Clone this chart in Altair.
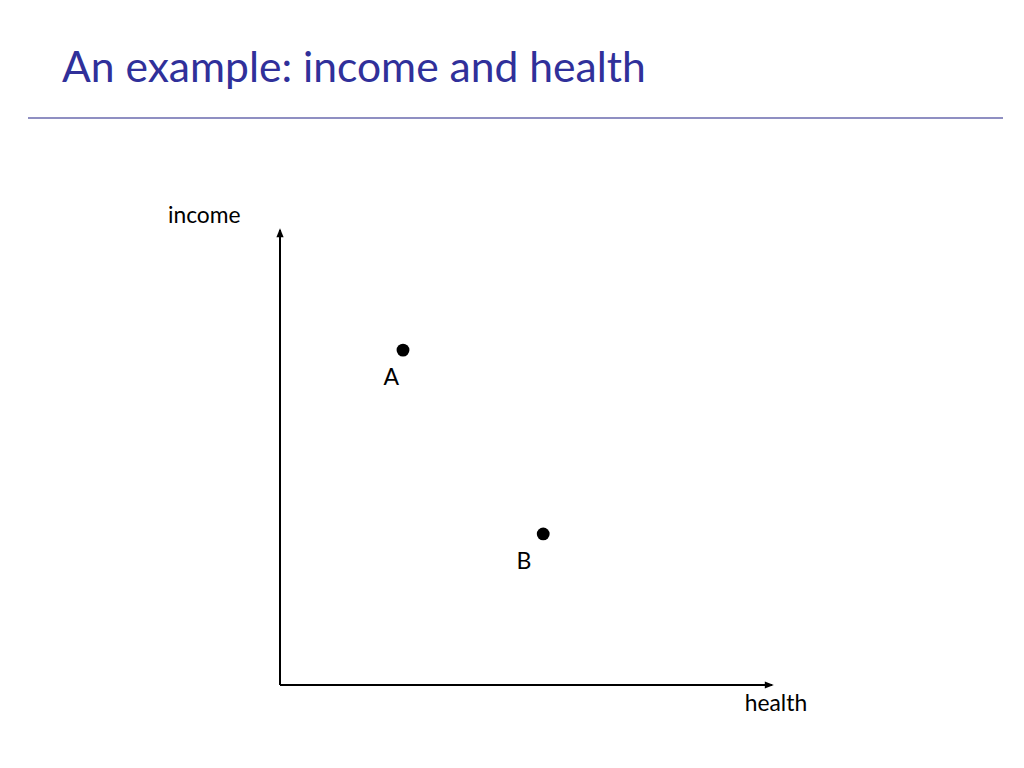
import altair as alt
import pandas as pd

# Data (in an abstract 0-10 health/income coordinate system)
point_names = ["A", "B"]
health_vals = [2.5, 5.35]
income_vals = [7.36, 3.32]
label_health = [2.26, 4.96]
label_income = [6.75, 2.70]

axis_names = ["income", "health"]
axis_label_x = [-1.54, 10.08]
axis_label_y = [10.31, -0.42]

title_text = "An example: income and health"

FONT = "Lato"
W, H = 492, 455

xs = alt.Scale(domain=[0, 10], nice=False, zero=False)
ys = alt.Scale(domain=[0, 10], nice=False, zero=False)

pts = pd.DataFrame({"name": point_names, "h": health_vals, "i": income_vals,
                    "lh": label_health, "li": label_income})
ax_df = pd.DataFrame({"name": axis_names, "x": axis_label_x, "y": axis_label_y})
axes_df = pd.DataFrame({"x": [0, 0], "y": [0, 0], "x2": [10, 0], "y2": [0, 10]})
arrows_r = pd.DataFrame({"x": [10], "y": [0]})
arrows_u = pd.DataFrame({"x": [0], "y": [10]})

X = lambda f: alt.X(f, type="quantitative", scale=xs, axis=None)
Y = lambda f: alt.Y(f, type="quantitative", scale=ys, axis=None)

axes_lines = alt.Chart(axes_df).mark_rule(color="black", strokeWidth=2).encode(
    x=X("x"), y=Y("y"), x2="x2", y2="y2")

arrow_r = alt.Chart(arrows_r).mark_point(
    shape="M0.4,0L-1.6,-0.8L-1.6,0.8Z", filled=True, color="black", size=81, opacity=1
).encode(x=X("x"), y=Y("y"))
arrow_u = alt.Chart(arrows_u).mark_point(
    shape="M0,-0.4L-0.8,1.6L0.8,1.6Z", filled=True, color="black", size=81, opacity=1
).encode(x=X("x"), y=Y("y"))

dots = alt.Chart(pts).mark_circle(color="black", size=165, opacity=1).encode(
    x=X("h"), y=Y("i"))
dot_labels = alt.Chart(pts).mark_text(font=FONT, fontSize=23, color="black",
                                      baseline="middle", align="center").encode(
    x=X("lh"), y=Y("li"), text="name")

axis_labels = alt.Chart(ax_df).mark_text(font=FONT, fontSize=22.8, color="black",
                                         baseline="middle", align="center").encode(
    x=X("x"), y=Y("y"), text="name")

title = alt.Chart(pd.DataFrame({"t": [title_text]})).mark_text(
    font=FONT, fontSize=42.6, color="#30309a", align="left", baseline="alphabetic"
).encode(x=alt.value(-218), y=alt.value(-148), text="t")

sep = alt.Chart(pd.DataFrame({"a": [0]})).mark_rule(color="#6a6aae", strokeWidth=1.5).encode(
    x=alt.value(-252), x2=alt.value(723), y=alt.value(-112))

chart = alt.layer(sep, title, axes_lines, arrow_r, arrow_u, dots, dot_labels, axis_labels).properties(
    width=W, height=H,
    autosize=alt.AutoSizeParams(type="none"),
    padding={"left": 272, "top": 222, "right": 244, "bottom": 75},
).configure_view(stroke=None)

chart.save("out.html", embed_options={"renderer": "svg", "actions": False})
